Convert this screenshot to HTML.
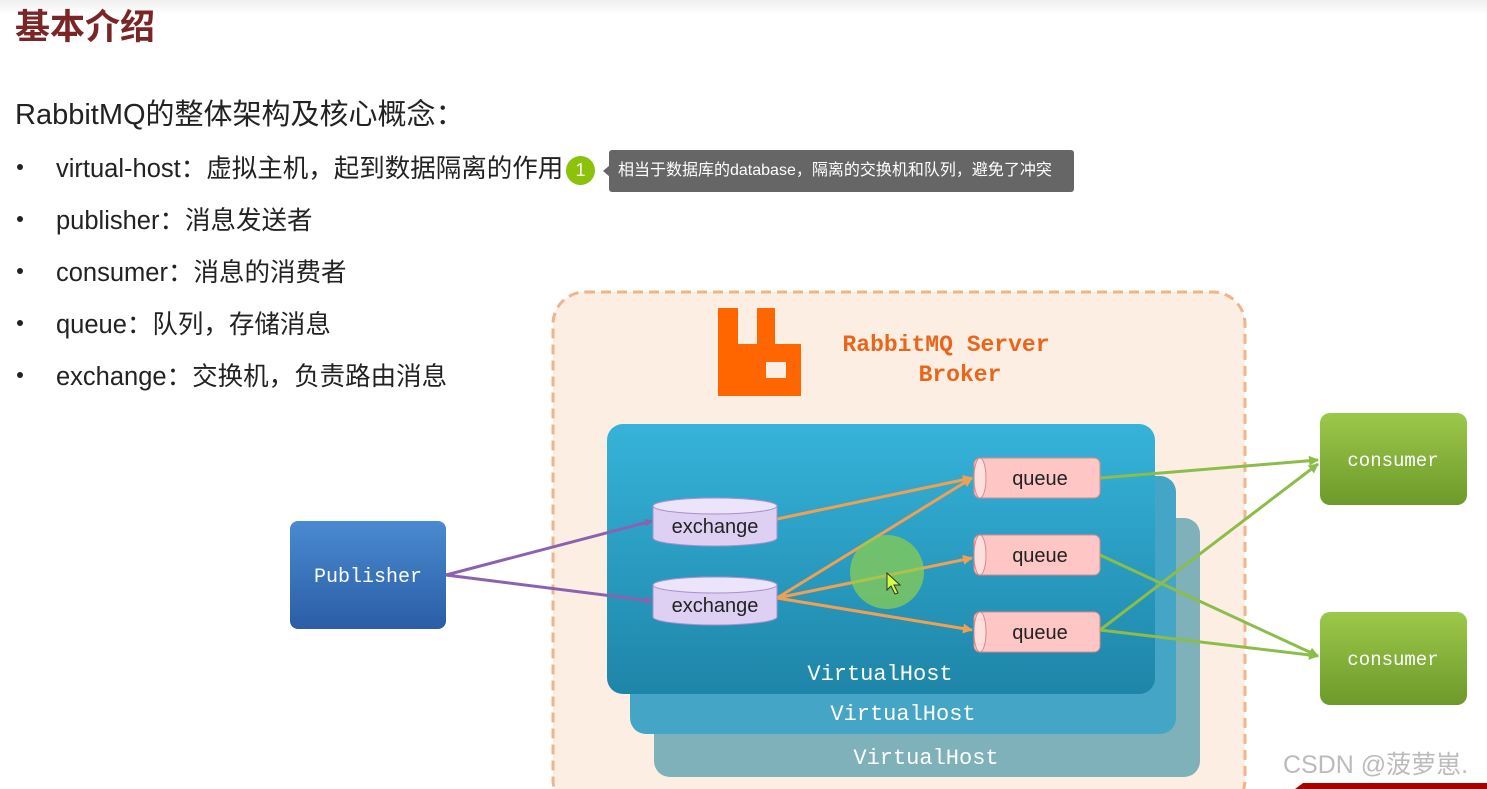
<!DOCTYPE html>
<html><head><meta charset="utf-8"><style>
html,body{margin:0;padding:0;background:#fff;width:1487px;height:789px;overflow:hidden;position:relative;font-family:"Liberation Sans","Noto Sans CJK SC",sans-serif;}
.topbar{position:absolute;left:0;top:0;width:1487px;height:14px;background:linear-gradient(#efefef,#fff);}
.t{position:absolute;white-space:nowrap;color:#222;line-height:1;}
.d{position:absolute;left:17px;width:6px;height:6px;border-radius:50%;background:#222;}
</style></head><body>
<div class="topbar"></div>
<div class="t" style="left:15px;top:10px;font-size:35px;font-weight:bold;color:#7a2626;">基本介绍</div>
<div class="t" style="left:15px;top:101px;font-size:29px;">RabbitMQ的整体架构及核心概念：</div>
<div class="d" style="top:164px"></div>
<div class="t" style="left:56px;top:157px;font-size:25.5px;">virtual-host：虚拟主机，起到数据隔离的作用</div>
<div class="d" style="top:216px"></div>
<div class="t" style="left:56px;top:209px;font-size:25.5px;">publisher：消息发送者</div>
<div class="d" style="top:268px"></div>
<div class="t" style="left:56px;top:261px;font-size:25.5px;">consumer：消息的消费者</div>
<div class="d" style="top:320px"></div>
<div class="t" style="left:56px;top:313px;font-size:25.5px;">queue：队列，存储消息</div>
<div class="d" style="top:372px"></div>
<div class="t" style="left:56px;top:365px;font-size:25.5px;">exchange：交换机，负责路由消息</div>
<div style="position:absolute;left:566px;top:156px;width:29px;height:29px;border-radius:50%;background:#8cc20a;color:#fff;font-size:18px;text-align:center;line-height:29px;">1</div>
<div style="position:absolute;left:603px;top:165px;width:0;height:0;border-top:6px solid transparent;border-bottom:6px solid transparent;border-right:7px solid #666;"></div>
<div style="position:absolute;left:609px;top:150px;width:465px;height:42px;background:#666;border-radius:3px;color:#fff;font-size:16px;line-height:42px;padding-left:9px;box-sizing:border-box;white-space:nowrap;">相当于数据库的database，隔离的交换机和队列，避免了冲突</div>

<svg width="1487" height="789" style="position:absolute;left:0;top:0" xmlns="http://www.w3.org/2000/svg">
<defs>
<linearGradient id="vh" x1="0" y1="0" x2="0" y2="1"><stop offset="0" stop-color="#36b3da"/><stop offset="1" stop-color="#1e85a8"/></linearGradient>
<linearGradient id="pub" x1="0" y1="0" x2="0" y2="1"><stop offset="0" stop-color="#4a8ad0"/><stop offset="1" stop-color="#2a5ea6"/></linearGradient>
<linearGradient id="con" x1="0" y1="0" x2="0" y2="1"><stop offset="0" stop-color="#9cc84a"/><stop offset="1" stop-color="#6d9a2a"/></linearGradient>
<marker id="ap" markerWidth="8" markerHeight="8" refX="7" refY="4" orient="auto" markerUnits="userSpaceOnUse"><path d="M0,0L8,4L0,8z" fill="#8a62b0"/></marker>
<marker id="ao" markerWidth="10" markerHeight="10" refX="9" refY="5" orient="auto" markerUnits="userSpaceOnUse"><path d="M0,0L10,5L0,10z" fill="#f0a050"/></marker>
<marker id="ag" markerWidth="10" markerHeight="10" refX="9" refY="5" orient="auto" markerUnits="userSpaceOnUse"><path d="M0,0L10,5L0,10z" fill="#8cbd4a"/></marker>
</defs>
<rect x="553" y="292" width="692" height="520" rx="32" fill="#fdeee3" stroke="#f0b48a" stroke-width="3" stroke-dasharray="10,6"/>
<path d="M718,308h20v36h19v-36h18v36h26v52h-83z M766,362v16h20v-16z" fill="#ff6600" fill-rule="evenodd"/>
<text x="946" y="351" text-anchor="middle" font-family="Liberation Mono,monospace" font-weight="bold" font-size="23" fill="#e8661c">RabbitMQ Server</text>
<text x="960" y="381" text-anchor="middle" font-family="Liberation Mono,monospace" font-weight="bold" font-size="23" fill="#e8661c">Broker</text>
<rect x="654" y="518" width="546" height="259" rx="16" fill="#7eb1ba"/>
<rect x="630" y="476" width="546" height="258" rx="16" fill="#44a5c6"/>
<rect x="607" y="424" width="548" height="270" rx="16" fill="url(#vh)"/>
<text x="880" y="680" text-anchor="middle" font-family="Liberation Mono,monospace" font-size="22" fill="#fff">VirtualHost</text>
<text x="903" y="720" text-anchor="middle" font-family="Liberation Mono,monospace" font-size="22" fill="#fff">VirtualHost</text>
<text x="926" y="764" text-anchor="middle" font-family="Liberation Mono,monospace" font-size="22" fill="#fff">VirtualHost</text>
<rect x="290" y="521" width="156" height="108" rx="8" fill="url(#pub)"/>
<text x="368" y="582" text-anchor="middle" font-family="Liberation Mono,monospace" font-size="20" fill="#fff">Publisher</text>
<rect x="1320" y="413" width="147" height="92" rx="10" fill="url(#con)"/>
<text x="1393" y="466" text-anchor="middle" font-family="Liberation Mono,monospace" font-size="19" fill="#fff">consumer</text>
<rect x="1320" y="612" width="147" height="93" rx="10" fill="url(#con)"/>
<text x="1393" y="665" text-anchor="middle" font-family="Liberation Mono,monospace" font-size="19" fill="#fff">consumer</text>
<g stroke-width="3" fill="none">
<line x1="446" y1="575" x2="652" y2="521" stroke="#8a62b0" marker-end="url(#ap)"/>
<line x1="446" y1="575" x2="652" y2="601" stroke="#8a62b0" marker-end="url(#ap)"/>
<line x1="777" y1="519" x2="972" y2="478" stroke="#f0a050" marker-end="url(#ao)"/>
<line x1="777" y1="598" x2="972" y2="478" stroke="#f0a050" marker-end="url(#ao)"/>
<line x1="777" y1="598" x2="972" y2="558" stroke="#f0a050" marker-end="url(#ao)"/>
<line x1="777" y1="598" x2="972" y2="630" stroke="#f0a050" marker-end="url(#ao)"/>
<line x1="1100" y1="478" x2="1318" y2="460" stroke="#8cbd4a" marker-end="url(#ag)"/>
<line x1="1100" y1="555" x2="1318" y2="656" stroke="#8cbd4a" marker-end="url(#ag)"/>
<line x1="1100" y1="630" x2="1318" y2="464" stroke="#8cbd4a" marker-end="url(#ag)"/>
<line x1="1100" y1="630" x2="1318" y2="656" stroke="#8cbd4a" marker-end="url(#ag)"/>
</g>
<g font-family="Liberation Sans,sans-serif" font-size="20" fill="#222" text-anchor="middle">
<path d="M653,506a62,8 0 0 1 124,0v32a62,8 0 0 1 -124,0z" fill="#ddd0f3" stroke="#a890cc"/>
<ellipse cx="715" cy="506" rx="62" ry="8" fill="#ece4fa" stroke="#a890cc"/>
<text x="715" y="533">exchange</text>
<path d="M653,585a62,8 0 0 1 124,0v32a62,8 0 0 1 -124,0z" fill="#ddd0f3" stroke="#a890cc"/>
<ellipse cx="715" cy="585" rx="62" ry="8" fill="#ece4fa" stroke="#a890cc"/>
<text x="715" y="612">exchange</text>
</g>
<g font-family="Liberation Sans,sans-serif" font-size="20" fill="#222" text-anchor="middle">
<rect x="974" y="458" width="126" height="40" rx="6" fill="#ffc6c6" stroke="#d88"/><ellipse cx="980" cy="478" rx="6" ry="20" fill="#ffdede" stroke="#d88"/><text x="1040" y="485">queue</text>
<rect x="974" y="535" width="126" height="40" rx="6" fill="#ffc6c6" stroke="#d88"/><ellipse cx="980" cy="555" rx="6" ry="20" fill="#ffdede" stroke="#d88"/><text x="1040" y="562">queue</text>
<rect x="974" y="612" width="126" height="40" rx="6" fill="#ffc6c6" stroke="#d88"/><ellipse cx="980" cy="632" rx="6" ry="20" fill="#ffdede" stroke="#d88"/><text x="1040" y="639">queue</text>
</g>
<ellipse cx="887" cy="572" rx="37" ry="37" fill="#8fd04a" opacity="0.7"/>
<path d="M887,573v17l4,-4l4,8l3,-1l-4,-8h6z" fill="#d0ff40" stroke="#333" stroke-width="1"/>
<text x="1283" y="773" font-family="Liberation Sans,Noto Sans CJK SC,sans-serif" font-size="25" fill="#bbb">CSDN @菠萝崽.</text>
<path d="M1295,789l8,-6h184v6z" fill="#a00"/>
</svg>
</body></html>
